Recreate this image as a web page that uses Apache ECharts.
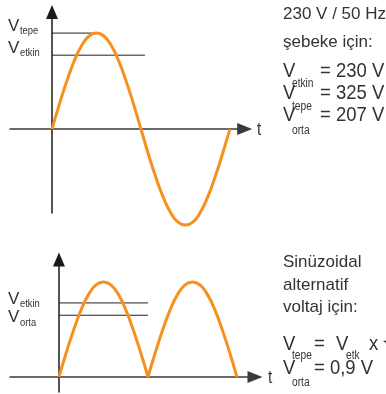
<!DOCTYPE html>
<html lang="tr">
<head>
    <meta charset="UTF-8">
    <title>Sinüs - etkin / tepe / orta</title>
    <script src="https://cdn.jsdelivr.net/npm/echarts@6/dist/echarts.min.js"></script>
    <style>
        html, body {margin: 0; padding: 0; background: #fff;}
        #chart {width: 386px; height: 394px;}
    </style>
</head>
<body>
<div id="chart"></div>
<script>
    // faz açısı (derece) ve okunan gerilim değerleri (tepe = 1)
    const phaseDeg = [0, 15, 30, 45, 60, 75, 90, 105, 120, 135, 150, 165, 180,
        195, 210, 225, 240, 255, 270, 285, 300, 315, 330, 345, 360];
    const sineWave = [0, 0.26, 0.5, 0.71, 0.87, 0.97, 1, 0.97, 0.87, 0.71, 0.5, 0.26, 0,
        -0.26, -0.5, -0.71, -0.87, -0.97, -1, -0.97, -0.87, -0.71, -0.5, -0.26, 0];
    // tam dalga doğrultulmuş: iki yarım dalga
    const humpPhase1 = [0, 15, 30, 45, 60, 75, 90, 105, 120, 135, 150, 165, 180];
    const humpPhase2 = [180, 195, 210, 225, 240, 255, 270, 285, 300, 315, 330, 345, 360];
    const humpValues = [0, 0.26, 0.5, 0.71, 0.87, 0.97, 1, 0.97, 0.87, 0.71, 0.5, 0.26, 0];

    // seviye çizgileri: [değer, bitiş açısı]
    const topLevels = {tepe: [1, 90], etkin: [0.77, 188]};
    const bottomLevels = {etkin: [0.78, 180], orta: [0.65, 180]};

    const orange = '#f7901e';
    const ink = '#333';
    const font = '"Liberation Sans", Arial, sans-serif';

    function zip(xs, ys) {
        return xs.map(function (x, i) { return [x, ys[i]]; });
    }
    function level(v) {
        return [[0, v[0]], [v[1], v[0]]];
    }
    // sx < 1 : dar (condensed) yazı taklidi
    function txt(x, y, text, size, sx) {
        return {
            type: 'text', x: x, y: y, scaleX: sx || 1, silent: true,
            style: {text: text, font: size + 'px ' + font, fill: ink, verticalAlign: 'middle', align: 'left'}
        };
    }
    function axisX(grid, min, max) {
        return {
            type: 'value', gridIndex: grid, min: min, max: max,
            axisLine: {onZero: true, lineStyle: {color: '#3a3a3a', width: 1.5}, symbol: ['none', 'triangle'], symbolSize: [12, 15]},
            axisTick: {show: false}, axisLabel: {show: false}, splitLine: {show: false}
        };
    }
    function axisY(grid, min, max) {
        return {
            type: 'value', gridIndex: grid, min: min, max: max,
            axisLine: {onZero: true, lineStyle: {color: '#1a1a1a', width: 1.5}, symbol: ['none', 'triangle'], symbolSize: [12, 14]},
            axisTick: {show: false}, axisLabel: {show: false}, splitLine: {show: false}
        };
    }
    function wave(grid, data) {
        return {
            type: 'line', xAxisIndex: grid, yAxisIndex: grid, data: data,
            smooth: true, showSymbol: false, clip: false, z: 3,
            lineStyle: {color: orange, width: 3}
        };
    }
    function levelLine(grid, v) {
        return {
            type: 'line', xAxisIndex: grid, yAxisIndex: grid, data: level(v),
            showSymbol: false, z: 2,
            lineStyle: {color: '#222', width: 1}
        };
    }

    let myChart = echarts.init(document.getElementById('chart'));
    let option = {
        animation: false,
        grid: [
            {left: 10, top: 12, width: 234.7, height: 201},
            {left: 10, top: 259.5, width: 245, height: 132.5}
        ],
        xAxis: [axisX(0, -85, 390), axisX(1, -99, 396.4)],
        yAxis: [axisY(0, -0.875, 1.22), axisY(1, -0.158, 1.237)],
        series: [
            levelLine(0, topLevels.tepe),
            levelLine(0, topLevels.etkin),
            wave(0, zip(phaseDeg, sineWave)),
            levelLine(1, bottomLevels.etkin),
            levelLine(1, bottomLevels.orta),
            wave(1, zip(humpPhase1, humpValues)),
            wave(1, zip(humpPhase2, humpValues))
        ],
        graphic: [
            // sol etiketler - üst
            txt(8, 26, 'V', 17), txt(20, 30.5, 'tepe', 11, 0.85),
            txt(8, 48.5, 'V', 17), txt(20, 53, 'etkin', 11, 0.85),
            // sol etiketler - alt
            txt(8, 299, 'V', 17), txt(20, 303.5, 'etkin', 11, 0.85),
            txt(8, 317.5, 'V', 17), txt(20, 322.5, 'orta', 11, 0.85),
            // eksen adları
            txt(257, 130, 't', 18, 0.85),
            txt(268, 378, 't', 18, 0.85),
            // sağ üst metin
            txt(283, 14, '230 V / 50 Hz', 17),
            txt(283, 42, 'şebeke için:', 17),
            txt(283, 71, 'V', 21, 0.88), txt(292, 84, 'etkin', 12, 0.85), txt(320, 71.5, '= 230 V', 21, 0.88),
            txt(283, 93.5, 'V', 21, 0.88), txt(292, 106.5, 'tepe', 12, 0.85), txt(320, 93.5, '= 325 V', 21, 0.88),
            txt(283, 115.5, 'V', 21, 0.88), txt(292, 130.5, 'orta', 12, 0.85), txt(320, 115.5, '= 207 V', 21, 0.88),
            // sağ alt metin
            txt(283, 262, 'Sinüzoidal', 17),
            txt(283, 285, 'alternatif', 17),
            txt(283, 307, 'voltaj için:', 17),
            txt(283, 344.5, 'V', 21, 0.88), txt(292, 355.5, 'tepe', 12, 0.85), txt(314, 344.5, '=', 21, 0.88),
            txt(336, 344.5, 'V', 21, 0.88), txt(346, 355.5, 'etk', 12, 0.85), txt(369, 344.5, 'x √2', 21, 0.88),
            txt(283, 368.5, 'V', 21, 0.88), txt(292, 383, 'orta', 12, 0.85), txt(314, 368.5, '= 0,9 V', 21, 0.88)
        ]
    };
    myChart.setOption(option);
</script>
</body>
</html>
